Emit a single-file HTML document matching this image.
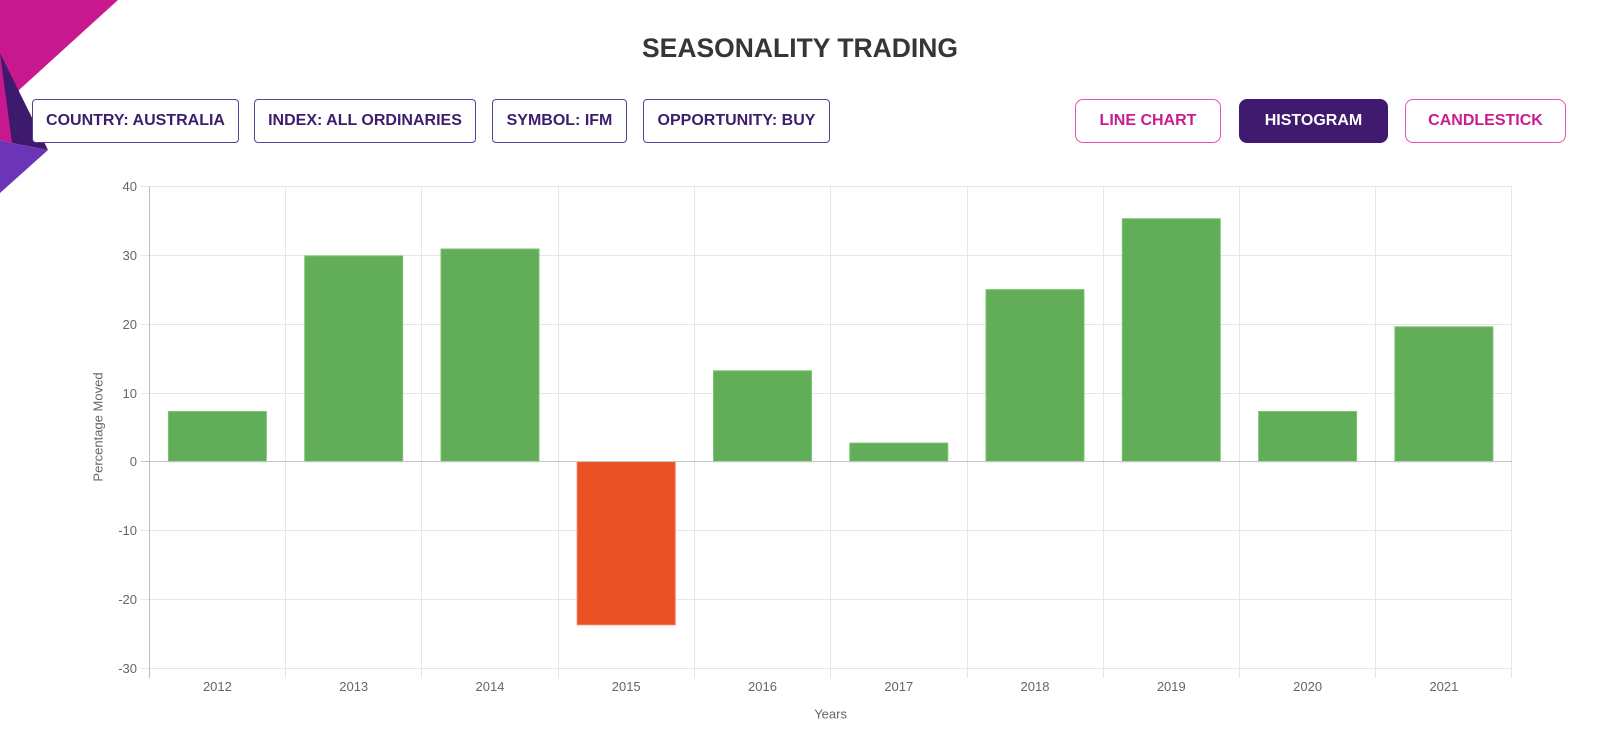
<!DOCTYPE html>
<html>
<head>
<meta charset="utf-8">
<style>
  html,body{margin:0;padding:0;background:#fff;}
  body{width:1600px;height:736px;position:relative;overflow:hidden;font-family:"Liberation Sans",Arial,sans-serif;}
  .title{position:absolute;left:0;width:1600px;top:33px;text-align:center;font-size:26.5px;font-weight:bold;color:#363636;letter-spacing:0px;}
  .btn{position:absolute;top:99px;height:44px;box-sizing:border-box;font-size:16px;font-weight:bold;display:flex;align-items:center;justify-content:center;white-space:nowrap;}
  .f{border:1px solid #5e3f98;border-radius:4px;color:#3d1e6d;background:#fff;}
  .p{border:1px solid #e052b2;border-radius:8px;color:#c81d8e;background:#fff;}
  .a{background:#3f1a6f;border-radius:8px;color:#fff;}
</style>
</head>
<body>
<svg style="position:absolute;left:0;top:0" width="130" height="200">
  <polygon points="0,0 118,0 19,90 12,143 0,140" fill="#c8188f"/>
  <polygon points="0,53 48,150 12,143" fill="#3e1a6e"/>
  <polygon points="0,140 12,143 48,150 0,193" fill="#6c35b8"/>
</svg>

<div class="title">SEASONALITY TRADING</div>

<div class="btn f" style="left:32px;width:207px;">COUNTRY: AUSTRALIA</div>
<div class="btn f" style="left:254px;width:222px;">INDEX: ALL ORDINARIES</div>
<div class="btn f" style="left:492px;width:135px;">SYMBOL: IFM</div>
<div class="btn f" style="left:643px;width:187px;">OPPORTUNITY: BUY</div>

<div class="btn p" style="left:1075px;width:146px;">LINE CHART</div>
<div class="btn a" style="left:1239px;width:149px;">HISTOGRAM</div>
<div class="btn p" style="left:1405px;width:161px;">CANDLESTICK</div>

<svg style="position:absolute;left:0;top:0" width="1600" height="736" font-family="Liberation Sans, Arial, sans-serif">
  <!-- horizontal gridlines -->
  <g stroke="#e6e6e6" stroke-width="1">
    <line x1="141" y1="186.5" x2="1512" y2="186.5"/>
    <line x1="141" y1="255.5" x2="1512" y2="255.5"/>
    <line x1="141" y1="324.5" x2="1512" y2="324.5"/>
    <line x1="141" y1="393.5" x2="1512" y2="393.5"/>
    <line x1="141" y1="530.5" x2="1512" y2="530.5"/>
    <line x1="141" y1="599.5" x2="1512" y2="599.5"/>
    <line x1="141" y1="668.5" x2="1512" y2="668.5"/>
  </g>
  <!-- vertical gridlines -->
  <g stroke="#e6e6e6" stroke-width="1">
    <line x1="285.5" y1="186.5" x2="285.5" y2="678"/>
    <line x1="421.5" y1="186.5" x2="421.5" y2="678"/>
    <line x1="558.5" y1="186.5" x2="558.5" y2="678"/>
    <line x1="694.5" y1="186.5" x2="694.5" y2="678"/>
    <line x1="830.5" y1="186.5" x2="830.5" y2="678"/>
    <line x1="967.5" y1="186.5" x2="967.5" y2="678"/>
    <line x1="1103.5" y1="186.5" x2="1103.5" y2="678"/>
    <line x1="1239.5" y1="186.5" x2="1239.5" y2="678"/>
    <line x1="1375.5" y1="186.5" x2="1375.5" y2="678"/>
    <line x1="1511.5" y1="186.5" x2="1511.5" y2="678"/>
  </g>

  <!-- bars -->
  <g stroke-width="1">
    <rect x="168.4" y="411.5" width="98" height="50.2" fill="#62ad58" stroke="#7cc373"/>
    <rect x="304.7" y="255.9" width="98" height="205.8" fill="#62ad58" stroke="#7cc373"/>
    <rect x="441.0" y="249.0" width="98" height="212.7" fill="#62ad58" stroke="#7cc373"/>
    <rect x="577.2" y="461.7" width="98" height="163.1" fill="#ea5124" stroke="#f27a5a"/>
    <rect x="713.5" y="370.8" width="98" height="90.9" fill="#62ad58" stroke="#7cc373"/>
    <rect x="849.8" y="443.1" width="98" height="18.6" fill="#62ad58" stroke="#7cc373"/>
    <rect x="986.0" y="289.6" width="98" height="172.1" fill="#62ad58" stroke="#7cc373"/>
    <rect x="1122.3" y="218.7" width="98" height="243.0" fill="#62ad58" stroke="#7cc373"/>
    <rect x="1258.6" y="411.5" width="98" height="50.2" fill="#62ad58" stroke="#7cc373"/>
    <rect x="1394.9" y="326.8" width="98" height="134.9" fill="#62ad58" stroke="#7cc373"/>
  </g>

  <!-- zero line & y axis -->
  <line x1="141" y1="461.5" x2="1512" y2="461.5" stroke="#c4c4c4" stroke-width="1"/>
  <line x1="149.5" y1="186.5" x2="149.5" y2="678" stroke="#bdbdbd" stroke-width="1"/>

  <!-- y tick labels -->
  <g font-size="13" fill="#666" text-anchor="end">
    <text x="137" y="191">40</text>
    <text x="137" y="260">30</text>
    <text x="137" y="329">20</text>
    <text x="137" y="398">10</text>
    <text x="137" y="466">0</text>
    <text x="137" y="535">-10</text>
    <text x="137" y="604">-20</text>
    <text x="137" y="673">-30</text>
  </g>

  <!-- x tick labels -->
  <g font-size="13" fill="#666" text-anchor="middle">
    <text x="217.4" y="691">2012</text>
    <text x="353.7" y="691">2013</text>
    <text x="490.0" y="691">2014</text>
    <text x="626.2" y="691">2015</text>
    <text x="762.5" y="691">2016</text>
    <text x="898.8" y="691">2017</text>
    <text x="1035.0" y="691">2018</text>
    <text x="1171.3" y="691">2019</text>
    <text x="1307.6" y="691">2020</text>
    <text x="1443.9" y="691">2021</text>
  </g>

  <text x="830.6" y="718.5" font-size="13" fill="#666" text-anchor="middle">Years</text>
  <text transform="translate(102.5,427) rotate(-90)" font-size="13" fill="#666" text-anchor="middle">Percentage Moved</text>
</svg>
</body>
</html>
